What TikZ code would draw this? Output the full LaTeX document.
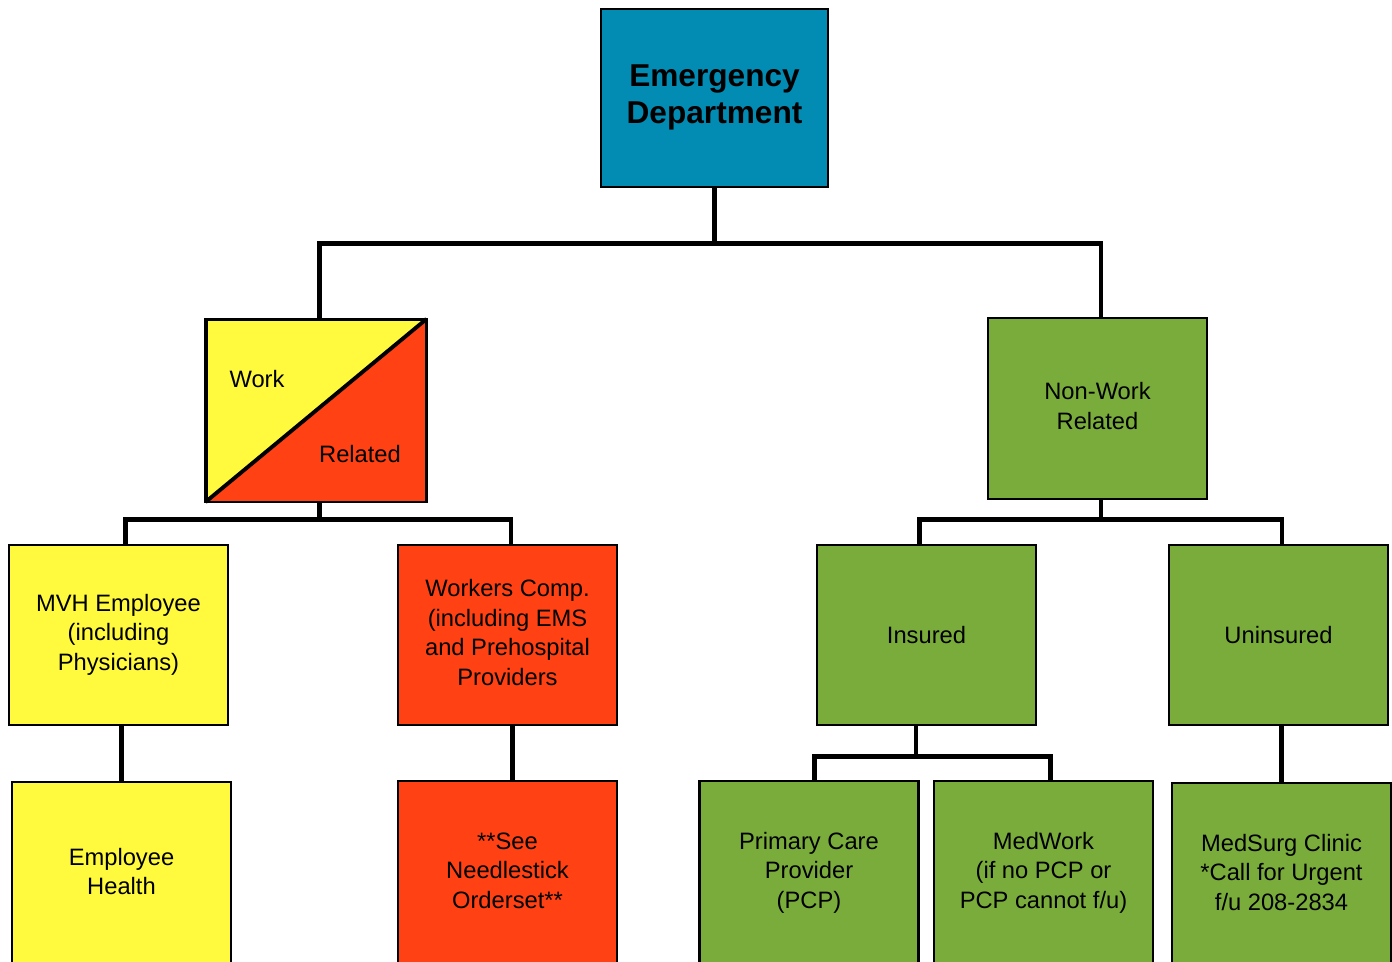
\documentclass[tikz,border=0pt]{standalone}
\usepackage{fontspec}
\setmainfont{Liberation Sans}
\usepackage{xcolor}
\definecolor{EDBlue}{RGB}{2,139,179}
\definecolor{WorkYellow}{RGB}{255,250,62}
\definecolor{WorkRed}{RGB}{255,65,20}
\definecolor{NonWorkGreen}{RGB}{122,172,60}

\begin{document}
\begin{tikzpicture}[x=0.02cm, y=-0.02cm,
    box/.style={rectangle, draw, line width=1.2pt, minimum width=4.38cm,
      minimum height=3.6cm, inner sep=0pt,
      font=\fontsize{13.5}{16.8}\selectfont},
    leaf/.style={box, minimum height=3.68cm},
    conn/.style={line width=2.8pt}]
      \clip (0,0) rectangle (1392,961);

      \node (ED) [box, fill=EDBlue, minimum width=4.54cm, minimum height=3.56cm,
        font=\fontsize{18}{21}\selectfont\bfseries] at (714.5,98) {
        \begin{tabular}{c}
          \rule{0pt}{14pt}Emergency \\
          Department
        \end{tabular}
      };

      % work related, split corner to corner
      \node (W) [box, fill=WorkYellow, minimum height=3.62cm] at (316,410.5) {};
      \fill[WorkRed] (W.south west) -- (W.north east) -- (W.south east) -- cycle;
      \draw[line width=1.2pt] (W.south west) rectangle (W.north east);
      \draw[line width=2.2pt] (W.south west) -- (W.north east);
      \node (Wk) [font=\fontsize{13.5}{16.8}\selectfont] at (257,379) {Work};
      \node (Rel) [font=\fontsize{13.5}{16.8}\selectfont] at (360,454) {Related};

      \node (NW) [box, fill=NonWorkGreen, minimum height=3.62cm] at (1097.5,408.5) {
        \begin{tabular}{c}
          Non-Work \\
          Related
        \end{tabular}
      };

      \node (MVH) [box, fill=WorkYellow] at (118.5,635) {
        \begin{tabular}{c}
          MVH Employee \\
          (including \\
          Physicians)
        \end{tabular}
      };
      \node (WC) [box, fill=WorkRed] at (507.5,635) {
        \begin{tabular}{c}
          Workers Comp. \\
          (including EMS \\
          and Prehospital \\
          Providers
        \end{tabular}
      };
      \node (Ins) [box, fill=NonWorkGreen] at (926.5,635) {Insured};
      \node (Unins) [box, fill=NonWorkGreen] at (1278.5,635) {Uninsured};

      \node (EH) [leaf, fill=WorkYellow] at (121.5,874) {
        \begin{tabular}{c}
          Employee \\
          Health
        \end{tabular}
      };
      \node (NS) [leaf, fill=WorkRed] at (507.5,873) {
        \begin{tabular}{c}
          **See \\
          Needlestick \\
          Orderset**
        \end{tabular}
      };
      \node (PCP) [leaf, fill=NonWorkGreen] at (809,873) {
        \begin{tabular}{c}
          Primary Care \\
          Provider \\
          (PCP)
        \end{tabular}
      };
      \node (MW) [leaf, fill=NonWorkGreen] at (1043.5,873) {
        \begin{tabular}{c}
          MedWork \\
          (if no PCP or \\
          PCP cannot f/u)
        \end{tabular}
      };
      \node (MS) [leaf, fill=NonWorkGreen] at (1281.5,875) {
        \begin{tabular}{c}
          MedSurg Clinic \\
          {*}Call for Urgent \\
          f/u 208-2834
        \end{tabular}
      };

      % tree connectors
      \draw[conn] (ED.south) -- ++(0,55) coordinate (edbus);
      \draw[conn] ([xshift=2]W.north) |- (edbus) -| ([xshift=2]NW.north);
      \draw[conn] ([xshift=2]W.south) -- ++(0,17) coordinate (wbus);
      \draw[conn] ([xshift=4]MVH.north) |- (wbus) -| ([xshift=2]WC.north);
      \draw[conn] ([xshift=2]NW.south) -- ++(0,19) coordinate (nwbus);
      \draw[conn] ([xshift=-4]Ins.north) |- (nwbus) -| ([xshift=2]Unins.north);
      \draw[conn] ([xshift=-6]Ins.south) -- ++(0,30) coordinate (insbus);
      \draw[conn] ([xshift=3]PCP.north) |- (insbus) -| ([xshift=4]MW.north);
      \draw[conn] (EH.north) -- (EH.north |- MVH.south);
      \draw[conn] ([xshift=3]WC.south) -- ([xshift=3]NS.north);
      \draw[conn] (MS.north) -- (MS.north |- Unins.south);
    \end{tikzpicture}
\end{document}
